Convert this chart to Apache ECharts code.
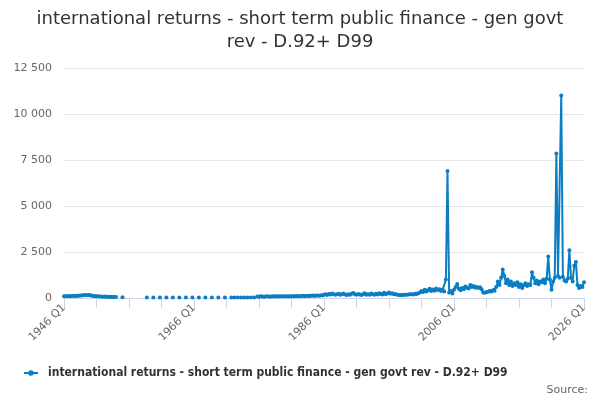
<!DOCTYPE html>
<html>
<head>
<meta charset="utf-8">
<script src="https://cdn.jsdelivr.net/npm/echarts@6/dist/echarts.min.js"></script>
<style>html,body{margin:0;padding:0;background:#fff}#chart{width:600px;height:400px}</style>
</head>
<body>
<div id="chart"></div>
<script>
// Category labels: quarters 1946 Q1 .. 2026 Q1
var startYear = 1946;
var endYear = 2026;
var categories = [];
for (var y = startYear; y <= endYear; y++) {
  for (var q = 1; q <= 4; q++) {
    if (y === endYear && q > 1) break;
    categories.push(y + ' Q' + q);
  }
}

var seriesName = 'international returns - short term public finance - gen govt rev - D.92+ D99';

// 1946 Q1 - 1954 Q1
var values1946 = [90,100,100,110,100,110,120,110,120,120,130,
  140,150,160,150,160,150,140,
  110,100,90,90,80,80,70,80,70,70,60,70,60,60,60];
// 1954 Q2 - 1975 Q3 (sparse observations)
var values1954 = [null,null,null,
  40,
  null,null,null,null,null,null,null,null,null,null,null,null,null,null,
  30,null,null,null, 30,null,null,null, 30,null,null,null, 30,null,null,null,
  30,null,null,null, 30,null,null,null, 30,null,null,null, 30,null,null,null,
  30,null,null,null, 30,null,null,null, 30,null,null,null, 30,null,null,null,
  30,null,null,null,
  30,
  null,30, null,30, null,30, null,30, null,30, null,30, null,30,
  null];
// 1975 Q4 - 1985 Q4
var values1975 = [80,70,90,80,70,80,90,80,70,90,80,
  90,80,100,90,80,90,100,90,80,100,90,
  100,90,110,100,90,110,120,100,110,120,110,
  120,130,110,130,140,120,150,140];
// 1986 Q1 - 2000 Q3
var values1986 = [180,200,160,220,190,240,200,180,210,230,
  170,200,250,190,160,210,180,230,270,200,
  170,220,190,160,200,260,180,210,170,240,
  200,180,230,190,260,220,190,280,210,250,
  300,230,260,200,220,180,160,150,170,160,
  180,170,190,200,210,190,230,220,260];
// 2000 Q4 - 2010 Q2
var values2000 = [300,380,320,450,350,420,500,380,460,400,520,430,480,380,450,350,
  1000,6900,300,380,
  250,450,600,760,500,420,550,480,620,560,520,700,600,650,560,600,540,580,480];
// 2010 Q3 - 2026 Q1
var values2010 = [300,280,320,340,380,360,420,400,
  600,900,700,1100,1550,1200,800,1000,700,900,650,800,700,850,600,750,550,700,800,650,750,700,
  1400,1100,800,950,750,900,850,1000,800,1050,
  2250,1000,450,900,1100,7850,1200,1100,11000,1150,950,900,1050,2600,1100,900,1750,1950,700,550,650,600,850];

var values = values1946.concat(values1954, values1975, values1986, values2000, values2010);

var yTicks = [0, 2500, 5000, 7500, 10000, 12500];

var lineColor = '#0b7dc3';
var chart = echarts.init(document.getElementById('chart'));
chart.setOption({
  animation: false,
  backgroundColor: '#ffffff',
  title: {
    text: 'international returns - short term public finance - gen govt\nrev - D.92+ D99',
    left: 'center',
    top: 3,
    textStyle: {fontFamily: 'DejaVu Sans', fontSize: 18, fontWeight: 'normal', color: '#333333', lineHeight: 23}
  },
  legend: {
    bottom: 16,
    left: 19,
    itemWidth: 14,
    itemHeight: 8,
    icon: 'path://M0,3 L14,3 L14,5 L0,5 Z M7,1.2 A2.8,2.8 0 1 1 6.99,1.2 Z',
    itemStyle: {color: lineColor},
    textStyle: {fontFamily: '"DejaVu Sans Condensed", "DejaVu Sans"', fontSize: 12, fontWeight: 'bold', color: '#333333', padding: [0, 0, 0, 5]},
    data: [seriesName]
  },
  grid: {left: 64, right: 16, top: 68, bottom: 102, containLabel: false},
  xAxis: {
    type: 'category',
    data: categories,
    boundaryGap: false,
    axisLine: {lineStyle: {color: '#ccd6eb'}},
    axisTick: {
      show: true,
      length: 10,
      lineStyle: {color: '#ccd6eb'},
      interval: function (i) { return i % 20 === 0; }
    },
    axisLabel: {
      rotate: 45,
      interval: function (i) { return i % 80 === 0; },
      fontFamily: 'DejaVu Sans',
      fontSize: 11,
      color: '#666666',
      margin: 8
    },
    splitLine: {show: false}
  },
  yAxis: {
    type: 'value',
    min: yTicks[0],
    max: yTicks[yTicks.length - 1],
    interval: 2500,
    axisLine: {show: false},
    axisTick: {show: false},
    axisLabel: {
      fontFamily: 'DejaVu Sans',
      fontSize: 11,
      color: '#666666',
      margin: 12,
      formatter: function (v) { return String(v).replace(/\B(?=(\d{3})+(?!\d))/g, ' '); }
    },
    splitLine: {lineStyle: {color: '#e6e6e6'}}
  },
  graphic: [{
    type: 'text',
    right: 12,
    bottom: 4,
    style: {text: 'Source:', fontFamily: 'DejaVu Sans', fontSize: 11, fill: '#666666'}
  }],
  series: [{
    name: seriesName,
    type: 'line',
    data: values,
    connectNulls: false,
    showSymbol: true,
    showAllSymbol: true,
    symbol: 'circle',
    symbolSize: 4,
    color: lineColor,
    lineStyle: {width: 2, color: lineColor},
    itemStyle: {color: lineColor}
  }]
});
</script>
</body>
</html>
